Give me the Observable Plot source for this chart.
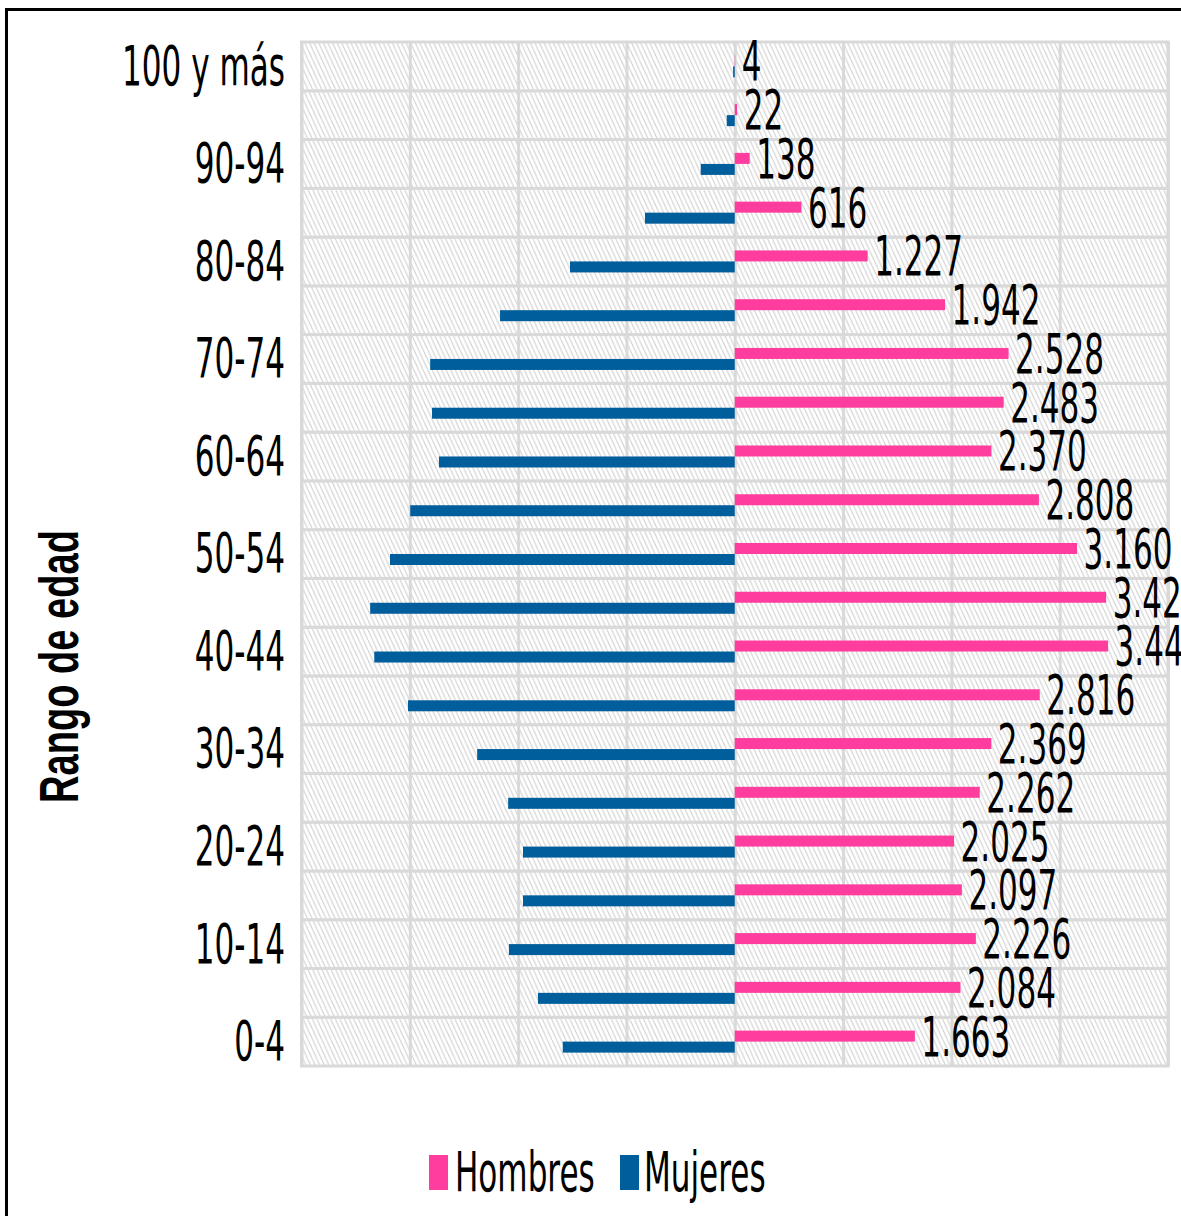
<!DOCTYPE html>
<html>
<head>
<meta charset="utf-8">
<script src="https://cdn.jsdelivr.net/npm/d3@7"></script>
<script src="https://cdn.jsdelivr.net/npm/@observablehq/plot@0.6"></script>
<style>
  html, body { margin: 0; padding: 0; background: #fff; overflow: hidden; }
  #wrap { position: relative; width: 1181px; height: 1216px; overflow: hidden; }
  #chart svg { display: block; }
  #frame { position: absolute; left: 5px; top: 8px; width: 1300px; height: 1300px;
           border-left: 3px solid #000; border-top: 3px solid #000; pointer-events: none; }
</style>
</head>
<body>
<div id="wrap">
  <div id="chart"></div>
  <div id="legend"></div>
  <div id="frame"></div>
</div>
<script>
// ---- data ----
const ages = ["0-4","5-9","10-14","15-19","20-24","25-29","30-34","35-39","40-44","45-49",
              "50-54","55-59","60-64","65-69","70-74","75-79","80-84","85-89","90-94","95-99","100 y más"];
const hombres = [1663, 2084, 2226, 2097, 2025, 2262, 2369, 2816, 3447, 3429,
                 3160, 2808, 2370, 2483, 2528, 1942, 1227, 616, 138, 22, 4];
const mujeres = [1588, 1817, 2085, 1955, 1955, 2092, 2378, 3017, 3328, 3366,
                 3183, 2996, 2731, 2795, 2812, 2167, 1521, 829, 314, 74, 15];
const labeledAges = ["0-4","10-14","20-24","30-34","40-44","50-54","60-64","70-74","80-84","90-94","100 y más"];
const xTicks = [-4000, -3000, -2000, -1000, 0, 1000, 2000, 3000, 4000];
const seriesNames = ["Hombres", "Mujeres"];
const seriesColors = ["#FF3D9E", "#005E9C"];
const axisTitle = "Rango de edad";

const table = ages.map((a, i) => ({age: a, hombres: hombres[i], mujeres: mujeres[i]}));
const fmt = d3.formatLocale({decimal: ",", thousands: ".", grouping: [3], currency: ["", ""]}).format(",");

const W = 1181, H = 1110;
const mTop = 42, mBottom = H - 1066, mLeft = 301.5, mRight = W - 1168;
const band = (1066 - 42) / ages.length;
const barH = 11;
const ROWFILL = "#fefefe";

const chart = Plot.plot({
  width: W,
  height: H,
  marginTop: mTop,
  marginBottom: mBottom,
  marginLeft: mLeft,
  marginRight: mRight,
  style: {fontFamily: "DejaVu Sans", fontSize: "56px", color: "#000", background: "#fff"},
  x: {domain: [-4000, 4000], axis: null},
  y: {domain: ages.slice().reverse(), padding: 0, round: false, tickSize: 0, tickPadding: 17,
      tickFormat: d => labeledAges.includes(d) ? d : "", label: null},
  marks: [
    Plot.barX(ages, {x1: -4000, x2: 4000, y: d => d, fill: ROWFILL, stroke: "#d9d9d9", strokeWidth: 3}),
    Plot.ruleX(xTicks, {stroke: "#d9d9d9", strokeWidth: 3}),
    Plot.barX(table, {x1: 0, x2: d => -d.mujeres, y: "age", fill: seriesColors[1],
                      insetTop: band / 2, insetBottom: band / 2 - barH}),
    Plot.barX(table, {x1: 0, x2: "hombres", y: "age", fill: seriesColors[0],
                      insetTop: band / 2 - barH, insetBottom: band / 2}),
    Plot.text(table, {x: "hombres", y: "age", text: d => fmt(d.hombres), textAnchor: "start",
                      lineAnchor: "middle", dx: 6, dy: -4.5, fill: "#000"}),
    Plot.text([axisTitle], {text: d => d, frameAnchor: "left", rotate: -90, textAnchor: "middle",
                            lineAnchor: "middle", dx: 60 - mLeft, dy: 666 - (42 + 1066) / 2,
                            fontFamily: "Liberation Sans", fontWeight: "bold", fontSize: 56, fill: "#000"})
  ]
});
document.getElementById("chart").appendChild(chart);

const svgNode = chart.tagName.toLowerCase() === "svg" ? chart : chart.querySelector("svg");
const svg = d3.select(svgNode);

// hatched background pattern (steep "\" diagonals)
const pw = 4.6, ph = 10;
const defs = svg.insert("defs", ":first-child");
const pat = defs.append("pattern").attr("id", "hatch").attr("patternUnits", "userSpaceOnUse")
  .attr("width", pw).attr("height", ph);
pat.append("rect").attr("width", pw).attr("height", ph).attr("fill", "#fff");
[-pw, 0, pw].forEach(o => {
  pat.append("line").attr("x1", o).attr("y1", 0).attr("x2", o + pw).attr("y2", ph)
    .attr("stroke", "#d6d6d6").attr("stroke-width", 1.2);
});
svg.selectAll("g, rect").filter(function () {
  const f = (this.getAttribute("fill") || "").toLowerCase();
  return f === ROWFILL;
}).attr("fill", "url(#hatch)");

// squeeze text horizontally (narrow rendering as in the reference)
function squeeze(sel, s) {
  sel.each(function () {
    const t = d3.select(this);
    const tr = t.attr("transform");
    if (tr) t.attr("transform", tr + ` scale(${s},1)`);
    else {
      const x = +t.attr("x") || 0, y = +t.attr("y") || 0;
      t.attr("x", null).attr("y", null).attr("transform", `translate(${x},${y}) scale(${s},1)`);
    }
  });
}
const allTexts = svg.selectAll("text");
const titleTexts = allTexts.filter(function () { return this.textContent === axisTitle; });
const otherTexts = allTexts.filter(function () { return this.textContent !== axisTitle; });
otherTexts.attr("font-size", 56).attr("font-family", "DejaVu Sans").attr("fill", "#000");
titleTexts.attr("font-size", 56).attr("font-family", "Liberation Sans").attr("font-weight", "bold").attr("fill", "#000");
squeeze(otherTexts, 0.555);
squeeze(titleTexts, 0.68);

// legend (below the chart svg)
const lg = d3.select("#legend").append("svg").attr("width", W).attr("height", 1216 - H)
  .style("display", "block");
const items = [
  {name: seriesNames[0], color: seriesColors[0], sx: 429, tx: 455},
  {name: seriesNames[1], color: seriesColors[1], sx: 620, tx: 644}
];
items.forEach(it => {
  lg.append("rect").attr("x", it.sx).attr("y", 1155 - H).attr("width", 19).attr("height", 35).attr("fill", it.color);
  lg.append("text").attr("transform", `translate(${it.tx},${1191 - H}) scale(0.555,1)`)
    .attr("font-family", "DejaVu Sans").attr("font-size", 56).attr("fill", "#000").text(it.name);
});
</script>
</body>
</html>
